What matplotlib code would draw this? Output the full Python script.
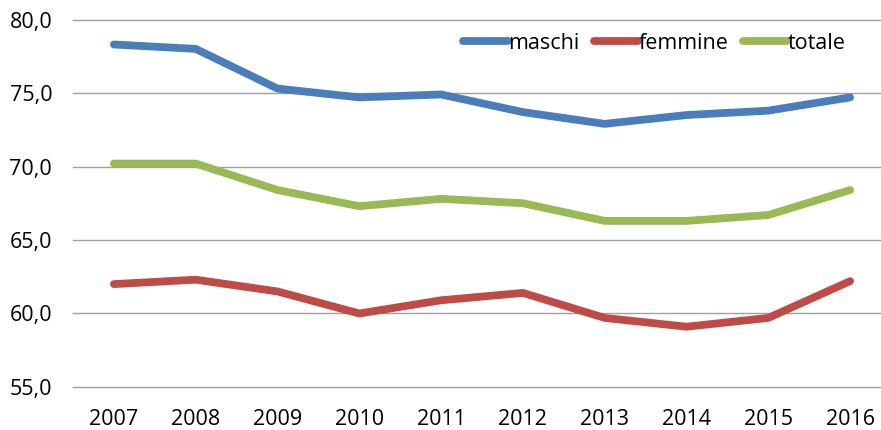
import matplotlib
matplotlib.use("Agg")
import matplotlib.pyplot as plt
from matplotlib.ticker import FuncFormatter

years = ["2007", "2008", "2009", "2010", "2011", "2012", "2013", "2014", "2015", "2016"]
maschi = [78.3, 78.0, 75.3, 74.7, 74.9, 73.7, 72.9, 73.5, 73.8, 74.7]
femmine = [62.0, 62.3, 61.5, 60.0, 60.9, 61.4, 59.7, 59.1, 59.7, 62.2]
totale = [70.2, 70.2, 68.4, 67.3, 67.8, 67.5, 66.3, 66.3, 66.7, 68.4]
series_names = ["maschi", "femmine", "totale"]
colors = ["#4A7EBB", "#BE4B48", "#98B954"]

plt.rcParams['font.family'] = ['Open Sans', 'DejaVu Sans']

W, H = 881, 430
fig = plt.figure(figsize=(W / 100, H / 100), dpi=100)
ax = fig.add_axes([73 / W, (H - 387) / H, (W - 73) / W, (387 - 19.5) / H])

x = list(range(len(years)))
for name, vals, c in zip(series_names, [maschi, femmine, totale], colors):
    ax.plot(x, vals, color=c, lw=5.6, solid_capstyle='round', solid_joinstyle='round', label=name)

ax.set_ylim(55, 80)
ax.set_yticks([55, 60, 65, 70, 75, 80])
ax.yaxis.set_major_formatter(FuncFormatter(lambda v, p: f"{v:.1f}".replace('.', ',')))
ax.set_xticks(x)
ax.set_xticklabels(years)
ax.set_xlim(-0.5, 9.5 - 10 / 81.8)
ax.grid(axis='y', color='#A0A0A0', lw=1)
for gl in ax.get_ygridlines():
    gl.set_clip_on(False)
ax.set_axisbelow(True)
for s in ax.spines.values():
    s.set_visible(False)
ax.tick_params(length=0, labelsize=15.5, colors='black')
ax.tick_params(axis='y', pad=15)
ax.tick_params(axis='x', pad=16)

leg = fig.legend(loc='center right', bbox_to_anchor=(846 / W, 1 - 43.5 / H), ncol=3, frameon=False,
                 fontsize=15.5, handlelength=2.05, handletextpad=0.05, columnspacing=0.65,
                 borderpad=0, borderaxespad=0)

fig.savefig("out.png", dpi=100)
